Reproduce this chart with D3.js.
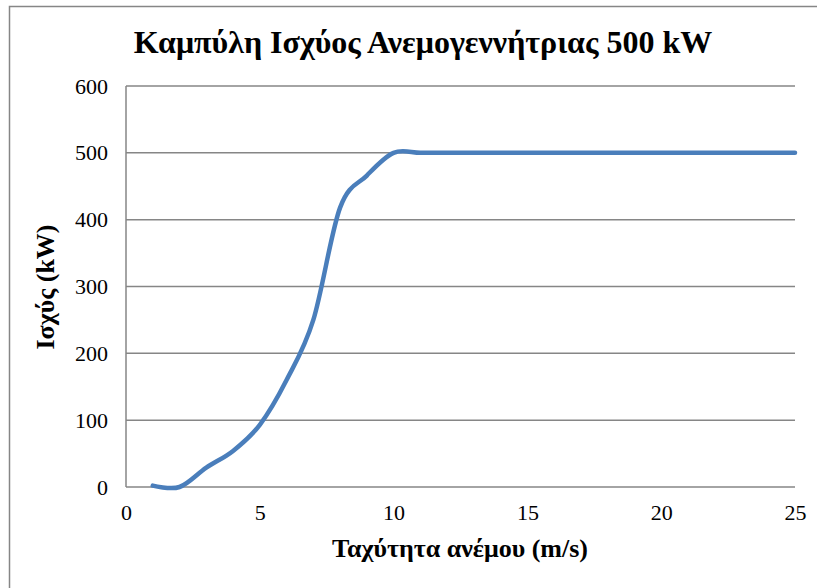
<!DOCTYPE html>
<html>
<head>
<meta charset="utf-8">
<script src="https://cdn.jsdelivr.net/npm/d3@7"></script>
</head>
<body style="margin:0; background:#fff">
<div class="grafico"></div>
<script>
// ταχύτητα ανέμου (m/s) και ισχύς (kW)
var taxytita = [1, 2, 3, 4, 5, 6, 7, 8, 9, 10, 11, 12, 13, 14, 15, 16, 17, 18, 19, 20, 21, 22, 23, 24, 25];
var isxys = [2, 0, 29, 54, 93, 160, 250, 418, 466, 500, 500, 500, 500, 500, 500, 500, 500, 500, 500, 500, 500, 500, 500, 500, 500];
var xTicks = [0, 5, 10, 15, 20, 25];
var yTicks = [0, 100, 200, 300, 400, 500, 600];

var titlos = 'Καμπύλη Ισχύος Ανεμογεννήτριας 500 kW';
var titlosX = 'Ταχύτητα ανέμου (m/s)';
var titlosY = 'Ισχύς (kW)';

var fuente = "'Liberation Serif'";

var contenedor = d3
  .select('.grafico')
  .append('svg')
  .attr('width', 817)
  .attr('height', 588)
  .attr('font-family', fuente);

// πλαίσιο
contenedor.append('path')
  .attr('d', 'M9.5,588 V6.5 H817')
  .attr('fill', 'none')
  .attr('stroke', '#868686')
  .attr('stroke-width', 1.5);

const xScale = d3.scaleLinear().domain([0, 25]).range([126, 795]);
const yScale = d3.scaleLinear().domain([0, 600]).range([487, 86]);

// γραμμές πλέγματος
contenedor.append('g')
  .selectAll('line')
  .data(yTicks)
  .enter()
  .append('line')
  .attr('x1', xScale(0))
  .attr('x2', xScale(25))
  .attr('y1', d => yScale(d))
  .attr('y2', d => yScale(d))
  .attr('stroke', '#868686')
  .attr('stroke-width', 1.5);

// άξονας y (γραμμή)
contenedor.append('line')
  .attr('x1', xScale(0))
  .attr('x2', xScale(0))
  .attr('y1', yScale(0))
  .attr('y2', yScale(600))
  .attr('stroke', '#868686')
  .attr('stroke-width', 1.5);

const xAxis = d3.axisBottom(xScale).tickValues(xTicks).tickSize(0).tickPadding(17);
const yAxis = d3.axisLeft(yScale).tickValues(yTicks).tickSize(0).tickPadding(18);

contenedor.append('g')
  .attr('transform', 'translate(0,' + yScale(0) + ')')
  .call(xAxis)
  .attr('font-family', fuente)
  .attr('font-size', 22)
  .call(g => g.select('.domain').remove())
  .selectAll('text')
  .attr('fill', '#000');

contenedor.append('g')
  .attr('transform', 'translate(' + xScale(0) + ',0)')
  .call(yAxis)
  .attr('font-family', fuente)
  .attr('font-size', 22)
  .call(g => g.select('.domain').remove())
  .selectAll('text')
  .attr('fill', '#000');

// καμπύλη
const linea = d3.line()
  .x((d, i) => xScale(taxytita[i]))
  .y(d => yScale(d))
  .curve(d3.curveCardinal.tension(0));

contenedor.append('path')
  .datum(isxys)
  .attr('d', linea)
  .attr('fill', 'none')
  .attr('stroke', '#4a7ebb')
  .attr('stroke-width', 4.5)
  .attr('stroke-linecap', 'round')
  .attr('stroke-linejoin', 'round');

// τίτλοι
contenedor.append('text')
  .attr('x', 423)
  .attr('y', 53)
  .attr('text-anchor', 'middle')
  .attr('font-family', fuente)
  .attr('font-size', 32)
  .attr('font-weight', 'bold')
  .text(titlos);

contenedor.append('text')
  .attr('x', 460)
  .attr('y', 557)
  .attr('text-anchor', 'middle')
  .attr('font-family', fuente)
  .attr('font-size', 26)
  .attr('font-weight', 'bold')
  .text(titlosX);

contenedor.append('text')
  .attr('transform', 'translate(54,287) rotate(-90)')
  .attr('text-anchor', 'middle')
  .attr('font-family', fuente)
  .attr('font-size', 26)
  .attr('font-weight', 'bold')
  .text(titlosY);
</script>
</body>
</html>
